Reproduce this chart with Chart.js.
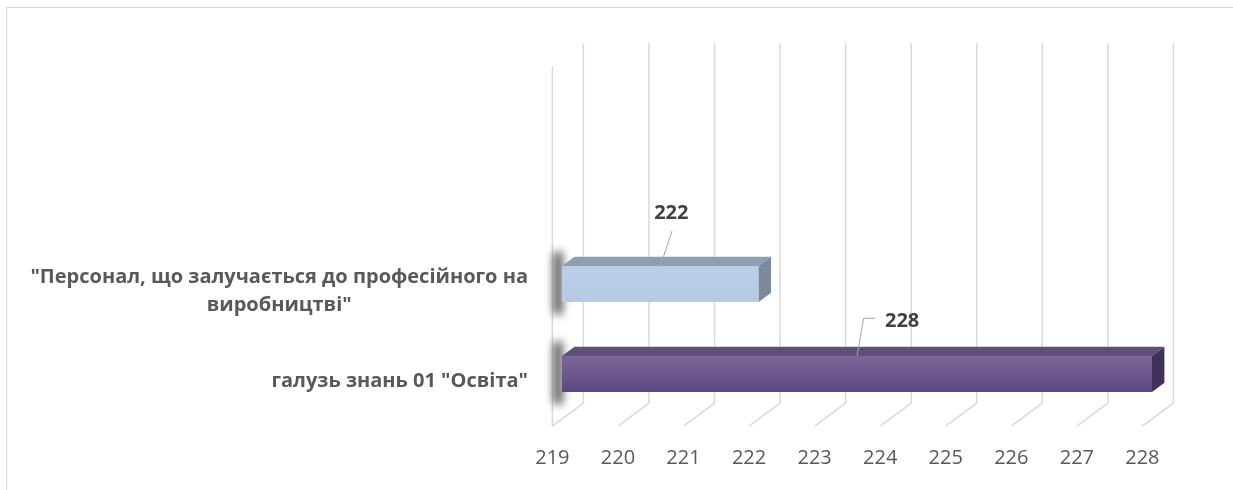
<!DOCTYPE html>
<html lang="uk">
<head>
<meta charset="utf-8">
<title>Chart</title>
<script src="https://cdn.jsdelivr.net/npm/chart.js@4.4.1/dist/chart.umd.min.js"></script>
<style>
  html, body { margin: 0; padding: 0; background: #fff; }
  #wrap { position: relative; width: 1233px; height: 490px; }
</style>
</head>
<body>
<div id="wrap"><canvas id="chart" width="1233" height="490"></canvas></div>
<script>
// rows from top to bottom, the two blank rows are the empty space above the bars
const categories = [
  '',
  '',
  ['"Персонал, що залучається до професійного на', 'виробництві"'],
  'галузь знань 01 "Освіта"'
];
const values = [null, null, 222, 228];
const axisMin = 219;
const axisMax = 228;
const axisStep = 1;

// fake 3d depth: full floor depth and where the bars sit inside it
const DEPTH_X = 31;
const DEPTH_Y = -23;
const BAR_FRONT = 0.31;
const BAR_BACK = 0.71;

const barStyles = [
  null,
  null,
  { front: ['#bacfe7', '#b6cae2'], top: '#8e9fb4', side: '#7a899b' },
  { front: ['#7b6898', '#5c4681'], top: '#5f4f78', side: '#3f3157' }
];

// where the value labels were dragged to, relative to the middle of the bar's top edge
const labelPlacement = [
  null,
  null,
  { line: [[11.7, -35]], text: [11, -52.5], align: 'center' },
  { line: [[6.6, -37.7], [18.3, -37.7]], text: [28, -35], align: 'left' }
];

function depthShift(t) {
  return { x: (t - BAR_FRONT) * DEPTH_X, y: (t - BAR_FRONT) * DEPTH_Y };
}

const box3d = {
  id: 'box3d',
  beforeDraw(chart) {
    const ctx = chart.ctx;
    ctx.save();
    ctx.fillStyle = '#fff';
    ctx.fillRect(0, 0, chart.width, chart.height);
    ctx.strokeStyle = '#d9d9d9';
    ctx.lineWidth = 1;
    ctx.strokeRect(6.5, 7.5, chart.width + 20, chart.height + 20);
    ctx.restore();
  },
  beforeDatasetsDraw(chart) {
    const { ctx, chartArea: a, scales: { x } } = chart;
    const back = depthShift(1);
    const front = depthShift(0);
    ctx.save();
    ctx.strokeStyle = '#d9d9d9';
    ctx.lineWidth = 1.5;
    for (let v = axisMin; v <= axisMax; v += axisStep) {
      const px = x.getPixelForValue(v);
      ctx.beginPath();
      ctx.moveTo(px + back.x, a.top + back.y);
      ctx.lineTo(px + back.x, a.bottom + back.y);
      ctx.lineTo(px + front.x, a.bottom + front.y);
      ctx.stroke();
    }
    // front edge of the side wall
    ctx.beginPath();
    ctx.moveTo(a.left + front.x, a.top + front.y);
    ctx.lineTo(a.left + front.x, a.bottom + front.y);
    ctx.stroke();

    // soft shadow of every bar on the side wall
    const meta = chart.getDatasetMeta(0);
    ctx.filter = 'blur(5px)';
    ctx.fillStyle = 'rgba(25,25,25,0.85)';
    meta.data.forEach((bar, i) => {
      if (values[i] == null) return;
      const p = bar.getProps(['y', 'height'], true);
      ctx.fillRect(a.left - 8, p.y - p.height / 2 - 14, 8, p.height + 26);
    });
    ctx.restore();
  },
  afterDatasetsDraw(chart) {
    const { ctx, chartArea: a, scales: { x } } = chart;
    const d = depthShift(BAR_BACK);
    const f = depthShift(BAR_FRONT);
    const dx = d.x - f.x;
    const dy = d.y - f.y;
    const meta = chart.getDatasetMeta(0);
    ctx.save();
    meta.data.forEach((bar, i) => {
      if (values[i] == null) return;
      const p = bar.getProps(['x', 'y', 'height'], true);
      const x0 = Math.max(x.getPixelForValue(axisMin), a.left);
      const x1 = p.x;
      const yt = p.y - p.height / 2, yb = p.y + p.height / 2;
      const st = barStyles[i];

      ctx.fillStyle = st.top;
      ctx.beginPath();
      ctx.moveTo(x0, yt);
      ctx.lineTo(x1, yt);
      ctx.lineTo(x1 + dx, yt + dy);
      ctx.lineTo(x0 + dx, yt + dy);
      ctx.closePath();
      ctx.fill();

      ctx.fillStyle = st.side;
      ctx.beginPath();
      ctx.moveTo(x1, yt);
      ctx.lineTo(x1 + dx, yt + dy);
      ctx.lineTo(x1 + dx, yb + dy);
      ctx.lineTo(x1, yb);
      ctx.closePath();
      ctx.fill();

      // value label with its leader line
      const lp = labelPlacement[i];
      const ax = (x0 + x1) / 2, ay = yt;
      ctx.strokeStyle = '#a6a6a6';
      ctx.lineWidth = 1;
      ctx.beginPath();
      ctx.moveTo(ax, ay);
      lp.line.forEach(pt => ctx.lineTo(ax + pt[0], ay + pt[1]));
      ctx.stroke();

      ctx.fillStyle = '#404040';
      ctx.font = 'bold 20px "Open Sans"';
      ctx.textAlign = lp.align;
      ctx.textBaseline = 'middle';
      ctx.fillText(String(values[i]), ax + lp.text[0], ay + lp.text[1]);
    });
    ctx.restore();
  },
  afterDraw(chart) {
    const { ctx, scales: { y } } = chart;
    const front = depthShift(0);
    const rightEdge = 528;
    const lineHeight = 28;
    ctx.save();
    ctx.fillStyle = '#595959';
    ctx.font = 'bold 20px "Open Sans"';
    ctx.textAlign = 'center';
    ctx.textBaseline = 'middle';
    categories.forEach((label, i) => {
      if (!label) return;
      const lines = Array.isArray(label) ? label : [label];
      const widest = Math.max(...lines.map(s => ctx.measureText(s).width));
      const cx = rightEdge - widest / 2;
      const cy = y.getPixelForValue(i) + front.y;
      lines.forEach((s, k) => {
        ctx.fillText(s, cx, cy + (k - (lines.length - 1) / 2) * lineHeight);
      });
    });
    ctx.restore();
  }
};

function frontFill(context) {
  const i = context.dataIndex;
  const st = barStyles[i];
  if (!st) return 'rgba(0,0,0,0)';
  const y = context.chart.scales.y;
  if (!y) return st.front[0];
  const cy = y.getPixelForValue(i);
  const g = context.chart.ctx.createLinearGradient(0, cy - 18, 0, cy + 18);
  g.addColorStop(0, st.front[0]);
  g.addColorStop(1, st.front[1]);
  return g;
}

new Chart(document.getElementById('chart'), {
  type: 'bar',
  data: {
    labels: categories.map(c => Array.isArray(c) ? c.join(' ') : c),
    datasets: [{
      data: values,
      base: axisMin,
      backgroundColor: frontFill,
      borderWidth: 0,
      barPercentage: 0.4,
      categoryPercentage: 1
    }]
  },
  options: {
    responsive: false,
    animation: false,
    indexAxis: 'y',
    layout: { padding: { left: 562, right: 81, top: 59, bottom: 0 } },
    plugins: {
      legend: { display: false },
      tooltip: { enabled: false }
    },
    scales: {
      x: {
        type: 'linear',
        min: axisMin,
        max: axisMax,
        ticks: {
          stepSize: axisStep,
          labelOffset: -9.6,
          padding: 27,
          color: '#595959',
          font: { family: 'Open Sans', size: 20 }
        },
        grid: { display: false, drawTicks: false },
        border: { display: false },
        afterFit(scale) { scale.height = 71; }
      },
      y: {
        display: false
      }
    }
  },
  plugins: [box3d]
});
</script>
</body>
</html>
